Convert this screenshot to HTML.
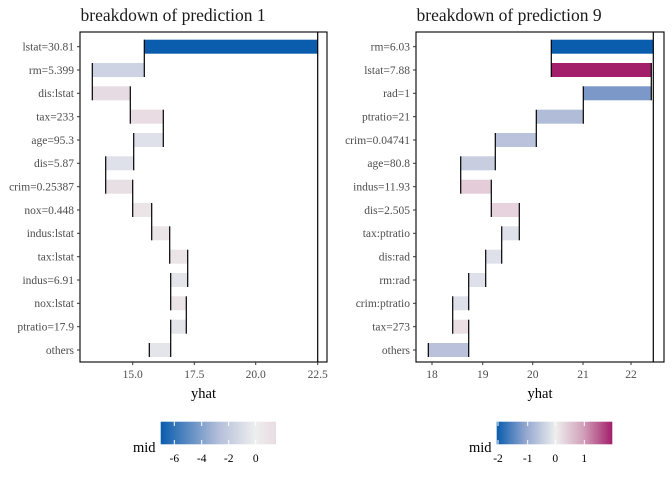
<!DOCTYPE html>
<html><head><meta charset="utf-8"><style>body{margin:0;background:#fff}svg{display:block}</style></head><body>
<svg width="672" height="480" xmlns="http://www.w3.org/2000/svg" font-family="Liberation Serif, serif">
<defs>
<linearGradient id="g1" x1="0" x2="1"><stop offset="0" stop-color="#0a5cad"/><stop offset="0.5" stop-color="#b3bed9"/><stop offset="0.82" stop-color="#eeeeee"/><stop offset="1" stop-color="#e8dce2"/></linearGradient>
<linearGradient id="g2" x1="0" x2="1"><stop offset="0" stop-color="#0a5cad"/><stop offset="0.25" stop-color="#92a6cf"/><stop offset="0.51" stop-color="#eeeeee"/><stop offset="0.75" stop-color="#d1a0b9"/><stop offset="1" stop-color="#a31f6c"/></linearGradient>
</defs>
<g fill="#1a1a1a" font-size="17.5">
<text x="80.5" y="21">breakdown of prediction 1</text>
<text x="416.5" y="21">breakdown of prediction 9</text>
</g>
<!-- Panel 1 -->
<g>
<rect x="144.3" y="39.7" width="173.4" height="14" fill="#0a5cad"/>
<rect x="92.3" y="63" width="52" height="14" fill="#cdd3e3"/>
<rect x="92.3" y="86.3" width="38" height="14" fill="#e6dbe2"/>
<rect x="130.3" y="109.7" width="33" height="14" fill="#e9dde3"/>
<rect x="133.7" y="133" width="29.6" height="14" fill="#dfe1ea"/>
<rect x="105.7" y="156.3" width="28" height="14" fill="#dfe1ea"/>
<rect x="105.7" y="179.7" width="27" height="14" fill="#e8dfe4"/>
<rect x="132.7" y="203" width="19" height="14" fill="#ebe5e8"/>
<rect x="151.7" y="226.3" width="18" height="14" fill="#ebe5e8"/>
<rect x="169.7" y="249.7" width="18" height="14" fill="#ebe5e8"/>
<rect x="170.7" y="273" width="17" height="14" fill="#e4e5ea"/>
<rect x="170.7" y="296.3" width="15.6" height="14" fill="#ebe5e8"/>
<rect x="170.7" y="319.7" width="15.6" height="14" fill="#e4e5ea"/>
<rect x="149.3" y="343" width="21.4" height="14" fill="#e4e5ea"/>
<g stroke="#000" stroke-width="1.2">
<line x1="144.3" y1="39.7" x2="144.3" y2="77"/>
<line x1="92.3" y1="63" x2="92.3" y2="100.3"/>
<line x1="130.3" y1="86.3" x2="130.3" y2="123.7"/>
<line x1="163.3" y1="109.7" x2="163.3" y2="147"/>
<line x1="133.7" y1="133" x2="133.7" y2="170.3"/>
<line x1="105.7" y1="156.3" x2="105.7" y2="193.7"/>
<line x1="132.7" y1="179.7" x2="132.7" y2="217"/>
<line x1="151.7" y1="203" x2="151.7" y2="240.3"/>
<line x1="169.7" y1="226.3" x2="169.7" y2="263.7"/>
<line x1="187.7" y1="249.7" x2="187.7" y2="287"/>
<line x1="170.7" y1="273" x2="170.7" y2="310.3"/>
<line x1="186.3" y1="296.3" x2="186.3" y2="333.7"/>
<line x1="170.7" y1="319.7" x2="170.7" y2="357"/>
<line x1="149.3" y1="343" x2="149.3" y2="357"/>
<line x1="317.7" y1="32" x2="317.7" y2="362"/>
</g>
<rect x="80" y="32" width="247" height="330" fill="none" stroke="#000" stroke-width="1.1"/>
<g stroke="#333" stroke-width="1">
<line x1="77" x2="80" y1="46.7" y2="46.7"/><line x1="77" x2="80" y1="70" y2="70"/><line x1="77" x2="80" y1="93.3" y2="93.3"/><line x1="77" x2="80" y1="116.7" y2="116.7"/><line x1="77" x2="80" y1="140" y2="140"/><line x1="77" x2="80" y1="163.3" y2="163.3"/><line x1="77" x2="80" y1="186.7" y2="186.7"/><line x1="77" x2="80" y1="210" y2="210"/><line x1="77" x2="80" y1="233.3" y2="233.3"/><line x1="77" x2="80" y1="256.7" y2="256.7"/><line x1="77" x2="80" y1="280" y2="280"/><line x1="77" x2="80" y1="303.3" y2="303.3"/><line x1="77" x2="80" y1="326.7" y2="326.7"/><line x1="77" x2="80" y1="350" y2="350"/>
<line x1="132.7" x2="132.7" y1="362" y2="365"/><line x1="194.3" x2="194.3" y1="362" y2="365"/><line x1="255.7" x2="255.7" y1="362" y2="365"/><line x1="317.7" x2="317.7" y1="362" y2="365"/>
</g>
<g fill="#4d4d4d" font-size="11.5" text-anchor="end">
<text x="74" y="50.5">lstat=30.81</text><text x="74" y="73.8">rm=5.399</text><text x="74" y="97.1">dis:lstat</text><text x="74" y="120.5">tax=233</text><text x="74" y="143.8">age=95.3</text><text x="74" y="167.1">dis=5.87</text><text x="74" y="190.5">crim=0.25387</text><text x="74" y="213.8">nox=0.448</text><text x="74" y="237.1">indus:lstat</text><text x="74" y="260.5">tax:lstat</text><text x="74" y="283.8">indus=6.91</text><text x="74" y="307.1">nox:lstat</text><text x="74" y="330.5">ptratio=17.9</text><text x="74" y="353.8">others</text>
</g>
<g fill="#4d4d4d" font-size="11.5" text-anchor="middle">
<text x="132.7" y="378">15.0</text><text x="194.3" y="378">17.5</text><text x="255.7" y="378">20.0</text><text x="317.7" y="378">22.5</text>
</g>
<text x="203.5" y="398" font-size="14.5" text-anchor="middle" fill="#000">yhat</text>
<text x="133" y="452" font-size="14.5" fill="#000">mid</text>
<rect x="160.7" y="421.7" width="115.3" height="22.6" fill="url(#g1)"/>
<g stroke="#fff" stroke-width="1"><line x1="174.3" x2="174.3" y1="421.7" y2="426"/><line x1="174.3" x2="174.3" y1="440" y2="444.3"/><line x1="201.7" x2="201.7" y1="421.7" y2="426"/><line x1="201.7" x2="201.7" y1="440" y2="444.3"/><line x1="228.7" x2="228.7" y1="421.7" y2="426"/><line x1="228.7" x2="228.7" y1="440" y2="444.3"/><line x1="255.7" x2="255.7" y1="421.7" y2="426"/><line x1="255.7" x2="255.7" y1="440" y2="444.3"/></g>
<g font-size="11.5" fill="#000" text-anchor="middle"><text x="174.3" y="462">-6</text><text x="201.7" y="462">-4</text><text x="228.7" y="462">-2</text><text x="255.7" y="462">0</text></g>
</g>
<!-- Panel 2 -->
<g>
<rect x="551.3" y="39.7" width="102" height="14" fill="#0a5cad"/>
<rect x="551.3" y="63" width="100" height="14" fill="#a31f6c"/>
<rect x="583.3" y="86.3" width="68" height="14" fill="#7b98c8"/>
<rect x="536.3" y="109.7" width="47" height="14" fill="#b0bcd8"/>
<rect x="495.3" y="133" width="41" height="14" fill="#bac3db"/>
<rect x="460.7" y="156.3" width="34.6" height="14" fill="#c8cddf"/>
<rect x="460.7" y="179.7" width="30.6" height="14" fill="#e4ccd8"/>
<rect x="491.3" y="203" width="28" height="14" fill="#e6d3dd"/>
<rect x="501.7" y="226.3" width="17.6" height="14" fill="#dfe1ea"/>
<rect x="485.7" y="249.7" width="16" height="14" fill="#dfe1ea"/>
<rect x="468.7" y="273" width="17" height="14" fill="#dfe1ea"/>
<rect x="452.7" y="296.3" width="16" height="14" fill="#dfe1ea"/>
<rect x="452.7" y="319.7" width="16" height="14" fill="#ebdfe4"/>
<rect x="428.3" y="343" width="40.4" height="14" fill="#b9c2da"/>
<g stroke="#000" stroke-width="1.2">
<line x1="551.3" y1="39.7" x2="551.3" y2="77"/>
<line x1="651.3" y1="63" x2="651.3" y2="100.3"/>
<line x1="583.3" y1="86.3" x2="583.3" y2="123.7"/>
<line x1="536.3" y1="109.7" x2="536.3" y2="147"/>
<line x1="495.3" y1="133" x2="495.3" y2="170.3"/>
<line x1="460.7" y1="156.3" x2="460.7" y2="193.7"/>
<line x1="491.3" y1="179.7" x2="491.3" y2="217"/>
<line x1="519.3" y1="203" x2="519.3" y2="240.3"/>
<line x1="501.7" y1="226.3" x2="501.7" y2="263.7"/>
<line x1="485.7" y1="249.7" x2="485.7" y2="287"/>
<line x1="468.7" y1="273" x2="468.7" y2="310.3"/>
<line x1="452.7" y1="296.3" x2="452.7" y2="333.7"/>
<line x1="468.7" y1="319.7" x2="468.7" y2="357"/>
<line x1="428.3" y1="343" x2="428.3" y2="357"/>
<line x1="653.3" y1="32" x2="653.3" y2="362"/>
</g>
<rect x="416" y="32" width="248" height="330" fill="none" stroke="#000" stroke-width="1.1"/>
<g stroke="#333" stroke-width="1">
<line x1="413" x2="416" y1="46.7" y2="46.7"/><line x1="413" x2="416" y1="70" y2="70"/><line x1="413" x2="416" y1="93.3" y2="93.3"/><line x1="413" x2="416" y1="116.7" y2="116.7"/><line x1="413" x2="416" y1="140" y2="140"/><line x1="413" x2="416" y1="163.3" y2="163.3"/><line x1="413" x2="416" y1="186.7" y2="186.7"/><line x1="413" x2="416" y1="210" y2="210"/><line x1="413" x2="416" y1="233.3" y2="233.3"/><line x1="413" x2="416" y1="256.7" y2="256.7"/><line x1="413" x2="416" y1="280" y2="280"/><line x1="413" x2="416" y1="303.3" y2="303.3"/><line x1="413" x2="416" y1="326.7" y2="326.7"/><line x1="413" x2="416" y1="350" y2="350"/>
<line x1="432" x2="432" y1="362" y2="365"/><line x1="482.7" x2="482.7" y1="362" y2="365"/><line x1="532.7" x2="532.7" y1="362" y2="365"/><line x1="583" x2="583" y1="362" y2="365"/><line x1="631" x2="631" y1="362" y2="365"/>
</g>
<g fill="#4d4d4d" font-size="11.5" text-anchor="end">
<text x="410" y="50.5">rm=6.03</text><text x="410" y="73.8">lstat=7.88</text><text x="410" y="97.1">rad=1</text><text x="410" y="120.5">ptratio=21</text><text x="410" y="143.8">crim=0.04741</text><text x="410" y="167.1">age=80.8</text><text x="410" y="190.5">indus=11.93</text><text x="410" y="213.8">dis=2.505</text><text x="410" y="237.1">tax:ptratio</text><text x="410" y="260.5">dis:rad</text><text x="410" y="283.8">rm:rad</text><text x="410" y="307.1">crim:ptratio</text><text x="410" y="330.5">tax=273</text><text x="410" y="353.8">others</text>
</g>
<g fill="#4d4d4d" font-size="11.5" text-anchor="middle">
<text x="432" y="378">18</text><text x="482.7" y="378">19</text><text x="532.7" y="378">20</text><text x="583" y="378">21</text><text x="631" y="378">22</text>
</g>
<text x="540" y="398" font-size="14.5" text-anchor="middle" fill="#000">yhat</text>
<text x="469" y="452" font-size="14.5" fill="#000">mid</text>
<rect x="496.7" y="421.7" width="115.6" height="22.6" fill="url(#g2)"/>
<g stroke="#fff" stroke-width="1"><line x1="498" x2="498" y1="421.7" y2="426"/><line x1="498" x2="498" y1="440" y2="444.3"/><line x1="527.7" x2="527.7" y1="421.7" y2="426"/><line x1="527.7" x2="527.7" y1="440" y2="444.3"/><line x1="555.3" x2="555.3" y1="421.7" y2="426"/><line x1="555.3" x2="555.3" y1="440" y2="444.3"/><line x1="584.3" x2="584.3" y1="421.7" y2="426"/><line x1="584.3" x2="584.3" y1="440" y2="444.3"/></g>
<g font-size="11.5" fill="#000" text-anchor="middle"><text x="498" y="462">-2</text><text x="527.7" y="462">-1</text><text x="555.3" y="462">0</text><text x="584.3" y="462">1</text></g>
</g>
</svg>
</body></html>
